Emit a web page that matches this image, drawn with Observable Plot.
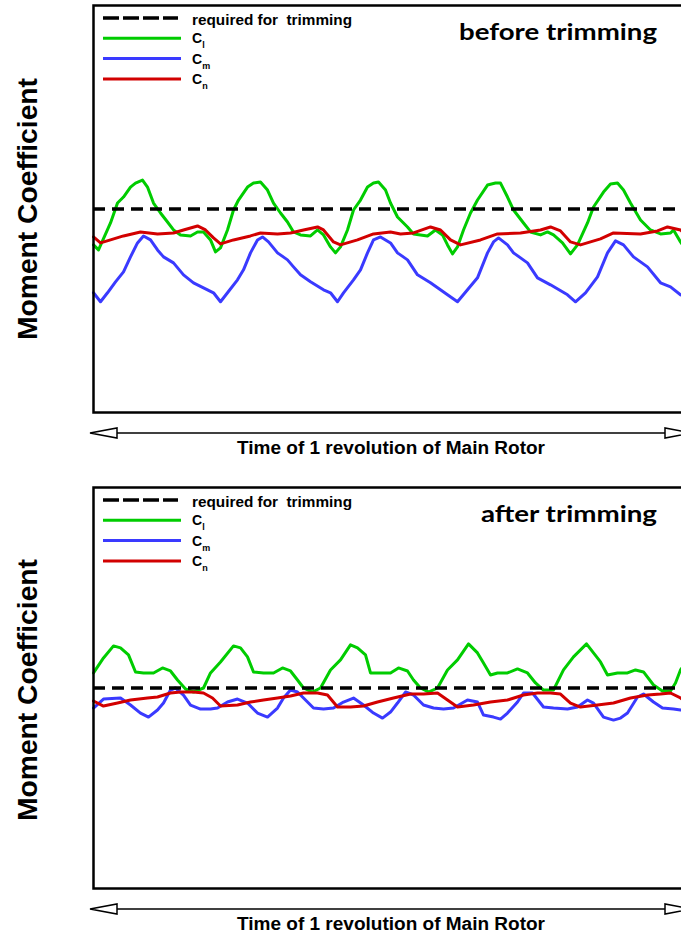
<!DOCTYPE html>
<html><head><meta charset="utf-8">
<script src="https://cdn.jsdelivr.net/npm/d3@7"></script>
<script src="https://cdn.jsdelivr.net/npm/@observablehq/plot@0.6"></script>
<style>
html,body{margin:0;padding:0;background:#fff;overflow:hidden;}
#page{position:relative;width:681px;height:936px;overflow:hidden;background:#fff;}
#page svg{position:absolute;left:0;display:block;max-width:none !important;}
</style></head><body><div id="page"></div>
<script>
// ---- texts ----
const panelTitles = ["before trimming", "after trimming"];
const yLabel = "Moment Coefficient";
const xLabel = "Time of 1 revolution of Main Rotor";
const legendLabels = ["required for  trimming", "C", "C", "C"];
const legendSubs = ["", "l", "m", "n"];
const trimLevel = [0];

// ---- data: [time, moment coefficient] (arbitrary units) ----
const clBefore = [[0,-36],[5,-41],[17,-14],[24,6],[30,12],[37,22],[42,26],[49,29],[54,22],[60,6],[67,-4],[74,-13],[80,-21],[87,-26],[97,-27],[104,-23],[110,-23],[117,-31],[122,-43],[127,-39],[134,-21],[140,-1],[145,9],[154,22],[160,26],[167,27],[174,19],[180,6],[187,-4],[194,-13],[200,-23],[207,-26],[217,-27],[224,-21],[230,-26],[237,-38],[242,-44],[247,-38],[254,-21],[260,-1],[267,9],[274,22],[280,26],[285,27],[292,19],[297,6],[304,-8],[314,-18],[320,-25],[334,-27],[342,-21],[349,-26],[354,-36],[359,-45],[364,-38],[370,-21],[377,-4],[384,9],[394,24],[402,26],[407,26],[414,12],[420,-1],[430,-14],[437,-23],[447,-26],[454,-23],[460,-26],[469,-34],[477,-45],[484,-36],[494,-14],[500,2],[510,17],[517,25],[524,26],[530,19],[537,6],[547,-11],[557,-21],[567,-25],[577,-24],[580,-21],[587,-33],[595,-45],[601,-39],[607,-25]];
const cmBefore = [[0,-84],[7,-93],[14,-84],[22,-73],[30,-63],[37,-48],[44,-34],[50,-27],[57,-31],[64,-41],[70,-48],[80,-54],[90,-66],[100,-74],[114,-81],[120,-84],[127,-93],[134,-84],[144,-71],[150,-61],[157,-44],[164,-31],[169,-28],[175,-33],[184,-44],[194,-51],[200,-58],[207,-66],[217,-73],[230,-81],[237,-84],[244,-93],[250,-84],[260,-71],[267,-61],[274,-44],[280,-31],[287,-28],[297,-34],[304,-44],[314,-51],[324,-66],[337,-74],[354,-86],[364,-93],[374,-81],[384,-69],[394,-44],[400,-33],[405,-29],[414,-36],[420,-44],[434,-54],[444,-69],[457,-76],[474,-86],[482,-93],[492,-84],[504,-68],[514,-44],[522,-32],[530,-36],[540,-48],[554,-58],[567,-74],[577,-78],[587,-86],[597,-90],[600,-93],[607,-86]];
const cnBefore = [[0,-28],[7,-34],[17,-31],[30,-27],[47,-23],[64,-25],[80,-24],[90,-21],[104,-17],[112,-21],[120,-29],[127,-35],[140,-31],[157,-27],[167,-24],[184,-25],[197,-24],[210,-21],[224,-18],[230,-21],[240,-33],[247,-36],[264,-31],[280,-25],[297,-23],[307,-25],[320,-24],[337,-18],[347,-21],[357,-31],[367,-36],[387,-31],[404,-25],[427,-24],[447,-21],[457,-18],[467,-22],[477,-33],[487,-36],[507,-30],[520,-24],[547,-25],[564,-22],[574,-18],[587,-21],[597,-30],[607,-36]];
const clAfter = [[0,15],[2,18],[10,30],[20,42],[27,40],[35,33],[42,16],[50,15],[60,15],[69,20],[77,17],[84,8],[92,-1],[100,-4],[110,0],[117,15],[127,26],[140,42],[147,40],[154,31],[160,16],[170,15],[180,15],[189,20],[197,17],[204,8],[210,0],[219,-4],[227,0],[237,18],[247,28],[257,43],[264,40],[272,33],[277,15],[287,15],[297,15],[305,20],[314,17],[320,8],[327,0],[335,-4],[344,0],[354,18],[364,28],[375,44],[384,35],[390,25],[397,13],[404,15],[414,15],[424,19],[434,15],[442,5],[450,-2],[460,-2],[470,18],[480,31],[493,44],[500,35],[507,26],[514,13],[524,15],[534,15],[542,18],[550,16],[560,3],[569,-3],[577,-3],[582,5],[587,18],[597,32],[607,42]];
const cmAfter = [[0,-20],[10,-11],[27,-10],[37,-17],[47,-25],[55,-29],[64,-22],[70,-15],[77,-2],[82,0],[90,-7],[97,-17],[107,-21],[117,-21],[124,-20],[134,-14],[144,-11],[154,-15],[164,-25],[174,-29],[184,-20],[190,-10],[197,-2],[204,-4],[214,-14],[220,-20],[230,-21],[240,-20],[250,-14],[260,-10],[270,-17],[280,-25],[289,-30],[297,-24],[304,-15],[312,-4],[320,-7],[330,-17],[340,-20],[350,-21],[360,-20],[374,-12],[384,-14],[390,-27],[400,-29],[407,-31],[414,-25],[424,-14],[430,-5],[439,-5],[450,-19],[460,-20],[474,-21],[484,-19],[494,-12],[500,-15],[510,-29],[520,-32],[527,-30],[534,-25],[544,-9],[550,-6],[560,-14],[569,-20],[580,-21],[587,-22],[597,-21],[607,-18]];
const cnAfter = [[0,-13],[10,-18],[24,-15],[37,-12],[54,-10],[64,-9],[77,-5],[87,-4],[100,-4],[110,-5],[119,-10],[127,-18],[144,-17],[157,-14],[170,-12],[184,-10],[197,-8],[210,-5],[224,-5],[234,-7],[244,-19],[257,-19],[270,-18],[284,-14],[300,-10],[317,-6],[330,-6],[344,-5],[354,-12],[364,-19],[380,-17],[397,-14],[414,-12],[430,-7],[444,-5],[457,-5],[467,-6],[477,-15],[487,-19],[504,-17],[520,-15],[537,-10],[554,-7],[567,-6],[577,-5],[587,-10],[597,-17],[607,-19]];

// ---- styles ----
const GREEN = "#00cc00", BLUE = "#3a3aff", RED = "#d20000";
const page = document.getElementById("page");

function panel(cl, cm, cn, yDom, frameH, top) {
  const W = 720, H = frameH + 5 + 40;
  const svg = Plot.plot({
    width: W, height: H,
    marginLeft: 93, marginRight: 20, marginTop: 5, marginBottom: 40,
    style: {maxWidth: "none"},
    x: {domain: [0, 607], axis: null},
    y: {domain: yDom, axis: null},
    marks: [
      Plot.line(cl, {x: d => d[0], y: d => d[1], stroke: GREEN, strokeWidth: 3, strokeLinejoin: "round"}),
      Plot.line(cm, {x: d => d[0], y: d => d[1], stroke: BLUE, strokeWidth: 3, strokeLinejoin: "round"}),
      Plot.line(cn, {x: d => d[0], y: d => d[1], stroke: RED, strokeWidth: 3, strokeLinejoin: "round"}),
      Plot.ruleY(trimLevel, {stroke: "#000", strokeWidth: 3.5, strokeDasharray: "12,7"}),
      Plot.frame({stroke: "#000", strokeWidth: 2.5})
    ]
  });
  svg.style.top = top + "px";
  svg.style.width = W + "px";
  svg.style.height = H + "px";
  svg.style.maxWidth = "none";
  page.appendChild(svg);
}
panel(clBefore, cmBefore, cnBefore, [-204, 204], 407, 0);
panel(clAfter, cmAfter, cnAfter, [-200, 200], 401, 482);

// ---- overlay: legends, titles, labels, arrows ----
const ov = d3.select(page).append("svg").attr("width", 681).attr("height", 936).style("top", "0px");
const sans = "'Liberation Sans', Arial, sans-serif";
const legendColors = ["#000", GREEN, BLUE, RED];
[0, 482].forEach((off, p) => {
  const g = ov.append("g").attr("transform", `translate(0,${off})`);
  legendLabels.forEach((lab, i) => {
    const y = 18 + i * 20.3;
    g.append("line").attr("x1", 103).attr("x2", i === 0 ? 178 : 181).attr("y1", y).attr("y2", y)
      .attr("stroke", legendColors[i]).attr("stroke-width", i === 0 ? 3.5 : 3)
      .attr("stroke-dasharray", i === 0 ? "16,4" : null);
    const t = g.append("text").attr("x", 192).attr("y", y + (i === 0 ? 7 : 5))
      .attr("font-family", sans).attr("font-weight", "bold").attr("fill", "#000")
      .attr("font-size", i === 0 ? 14.5 : 14).style("white-space", "pre");
    if (i === 0) { t.text(lab).attr("textLength", 160).attr("lengthAdjust", "spacingAndGlyphs"); }
    else {
      t.append("tspan").text(lab);
      t.append("tspan").attr("font-size", 9).attr("dy", 5).text(legendSubs[i]);
    }
  });
  g.append("text").attr("x", 657).attr("y", 40).attr("text-anchor", "end")
    .attr("font-family", "Lato, 'Open Sans', sans-serif").attr("font-weight", "bold").attr("font-size", 22)
    .attr("textLength", p === 0 ? 198 : 176).attr("lengthAdjust", "spacingAndGlyphs")
    .text(panelTitles[p]);
  // y label
  g.append("text").attr("transform", `translate(37,${209 - (p ? 1 : 0)}) rotate(-90)`).attr("text-anchor", "middle")
    .attr("font-family", sans).attr("font-weight", "bold").attr("font-size", 27)
    .attr("textLength", 262).attr("lengthAdjust", "spacingAndGlyphs").text(yLabel);
});
// x arrows and labels
[[433, 454], [909, 930]].forEach(([ay, ty]) => {
  ov.append("line").attr("x1", 100).attr("x2", 680).attr("y1", ay).attr("y2", ay).attr("stroke", "#000").attr("stroke-width", 1.5);
  ov.append("path").attr("d", `M90,${ay} L117,${ay - 5} L117,${ay + 5} Z`).attr("fill", "#fff").attr("stroke", "#000").attr("stroke-width", 1.5);
  ov.append("path").attr("d", `M692,${ay} L665,${ay - 5} L665,${ay + 5} Z`).attr("fill", "#fff").attr("stroke", "#000").attr("stroke-width", 1.5);
  ov.append("text").attr("x", 391).attr("y", ty).attr("text-anchor", "middle")
    .attr("font-family", sans).attr("font-weight", "bold").attr("font-size", 18)
    .attr("textLength", 308).attr("lengthAdjust", "spacingAndGlyphs").text(xLabel);
});
</script></body></html>
